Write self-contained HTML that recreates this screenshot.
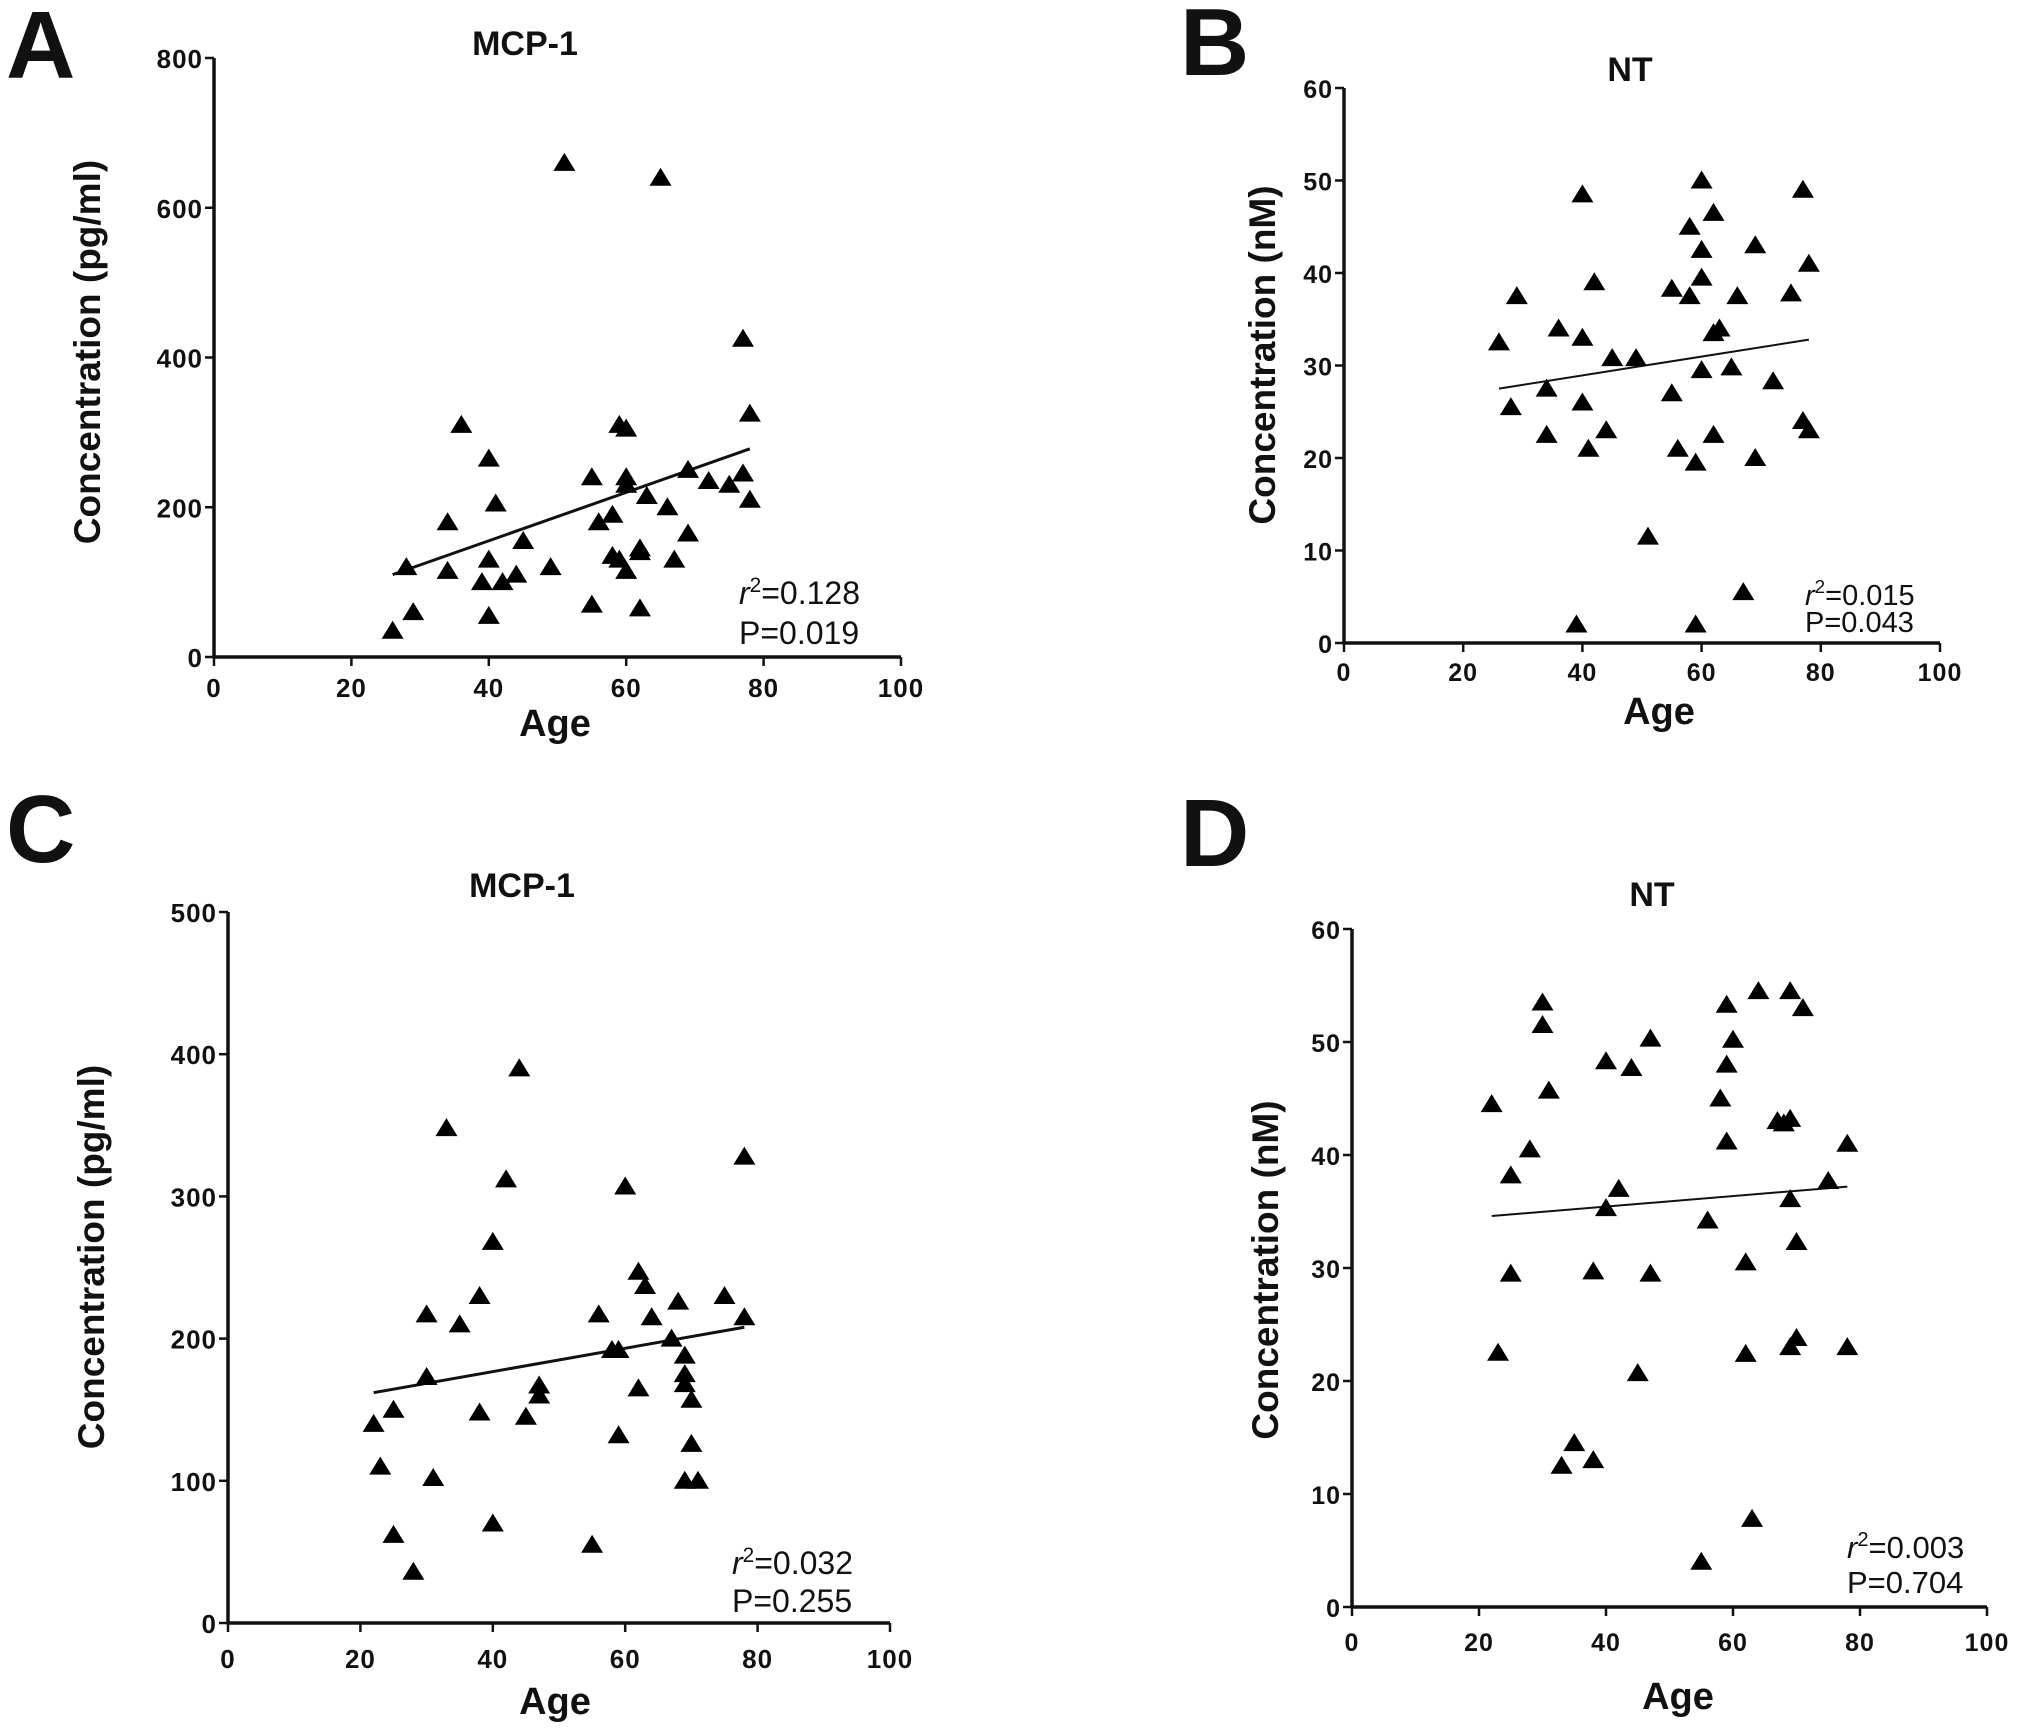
<!DOCTYPE html>
<html><head><meta charset="utf-8"><style>
html,body{margin:0;padding:0;background:#fff}
svg{display:block}
text{font-family:"Liberation Sans",Arial,sans-serif;fill:#111}
</style></head><body>
<svg id="fig" width="2031" height="1734" viewBox="0 0 2031 1734" xmlns="http://www.w3.org/2000/svg"></svg>
<script>
const xTicks=[0,20,40,60,80,100];
const aAges=[26,28,29,34,34,36,39,40,40,40,41,42,44,45,49,51,55,55,56,58,58,59,59,60,60,60,60,62,62,62,63,65,66,67,69,69,72,75,77,77,78,78];
const aVals=[35,120,60,115,180,310,100,130,55,265,205,100,110,155,120,660,240,70,180,190,135,130,310,305,115,240,230,140,145,65,215,640,200,130,250,165,235,230,425,245,325,210];
const aFit=[[26,110],[78,278]];
const aYTicks=[0,200,400,600,800];
const bAges=[26,28,29,34,34,36,39,40,40,40,41,42,44,45,49,51,55,55,56,58,58,59,59,60,60,60,60,62,62,62,63,65,66,67,69,69,72,75,77,77,78,78];
const bVals=[32.5,25.5,37.5,27.5,22.5,34,2,48.5,33,26,21,39,23,30.8,30.8,11.5,38.3,27,21,45,37.5,19.5,2,50,42.5,39.5,29.5,46.5,33.5,22.5,34,29.8,37.5,5.5,43,20,28.3,37.8,49,24,23,41];
const bFit=[[26,27.5],[78,32.8]];
const bYTicks=[0,10,20,30,40,50,60];
const cAges=[22,23,25,25,28,30,30,31,33,35,38,38,40,40,42,44,45,47,47,55,56,58,59,59,60,62,62,63,64,67,68,69,69,69,69,70,70,71,75,78,78];
const cVals=[140,110,150,62,36,217,173,102,348,210,230,148,268,70,312,390,145,160,167,55,217,192,132,192,307,247,165,237,215,200,226,188,175,168,100,157,126,100,230,328,215];
const cFit=[[22,162],[78,208]];
const cYTicks=[0,100,200,300,400,500];
const dAges=[22,23,25,25,28,30,30,31,33,35,38,38,40,40,42,44,45,47,47,55,56,58,59,59,59,60,62,62,63,64,67,68,69,69,69,69,70,70,71,75,78,78];
const dVals=[44.5,22.5,38.2,29.5,40.5,53.5,51.5,45.7,12.5,14.5,29.7,13,48.3,35.3,37,47.7,20.7,50.3,29.5,4,34.2,45,53.3,48,41.2,50.2,30.5,22.4,7.8,54.5,43,42.8,54.5,43.2,36.1,23,32.3,23.8,53,37.7,41,23];
const dFit=[[22,34.6],[78,37.2]];
const dYTicks=[0,10,20,30,40,50,60];

const NS="http://www.w3.org/2000/svg";
const svg=document.getElementById('fig');
function mk(tag,attrs,parent,txt){const e=document.createElementNS(NS,tag);for(const k in attrs)e.setAttribute(k,attrs[k]);if(txt!==undefined)e.textContent=txt;parent.appendChild(e);return e;}

function panel(p){
  const g=mk('g',{},svg);
  
  
  const sx=v=>p.x0+(v/100)*(p.x1-p.x0);
  const sy=v=>p.y0-(v/p.ymax)*(p.y0-p.y1);
  let t=mk('text',{x:p.lx,y:p.ly,'font-size':96,'font-weight':'bold'},g,p.id);
  
  t=mk('text',{x:p.tx,y:p.ty,'font-size':34,'font-weight':'bold','text-anchor':'middle'},g,p.title);
  
  let l=mk('line',{x1:p.x0,y1:p.y0,x2:p.x0,y2:p.y1,stroke:'#111','stroke-width':3.5},g);
  
  l=mk('line',{x1:p.x0-1.5,y1:p.y0,x2:p.x1,y2:p.y0,stroke:'#111','stroke-width':3.5},g);
  
  p.yt.forEach(v=>{
    const y=sy(v);
    let tk=mk('line',{x1:p.x0-9,y1:y,x2:p.x0,y2:y,stroke:'#111','stroke-width':2.5},g);
    
    let tl=mk('text',{x:p.x0-11,y:y+10,'font-size':p.tfs,'font-weight':'bold','text-anchor':'end',fill:'#222','letter-spacing':1},g,String(v));
    
  });
  xTicks.forEach(v=>{
    const x=sx(v);
    let tk=mk('line',{x1:x,y1:p.y0,x2:x,y2:p.y0+9,stroke:'#111','stroke-width':2.5},g);
    
    let tl=mk('text',{x:x,y:p.xly,'font-size':p.tfs,'font-weight':'bold','text-anchor':'middle',fill:'#222','letter-spacing':1},g,String(v));
    
  });
  t=mk('text',{x:p.ax,y:p.ay,'font-size':38,'font-weight':'bold','text-anchor':'middle'},g,'Age');
  
  t=mk('text',{x:0,y:0,'font-size':37,'font-weight':'bold','text-anchor':'middle',transform:`translate(${p.ytx},${p.yty}) rotate(-90)`},g,p.ytitle);
  
  l=mk('line',{x1:sx(p.fit[0][0]),y1:sy(p.fit[0][1]),x2:sx(p.fit[1][0]),y2:sy(p.fit[1][1]),stroke:'#111','stroke-width':p.fw},g);
  
  p.ages.forEach((a,i)=>{
    const x=sx(a),y=sy(p.vals[i]);
    const tr=mk('polygon',{points:`${x-11},${y+8} ${x+11},${y+8} ${x},${y-10}`,fill:'#000'},g);
    
    
  });
  const st=mk('text',{x:p.sx,y:p.sy1,'font-size':p.sfs,fill:'#333'},g);
  
  mk('tspan',{'font-style':'italic'},st,'r');
  mk('tspan',{dy:-12,'font-size':p.sfs*0.65},st,'2');
  mk('tspan',{dy:12},st,'='+p.r2);
  t=mk('text',{x:p.sx,y:p.sy2,'font-size':p.sfs,fill:'#333'},g,'P='+p.pv);
  
}

panel({id:'A',title:'MCP-1',x0:214,x1:901,y0:657,y1:58,ymax:800,yt:aYTicks,ages:aAges,vals:aVals,fit:aFit,fw:3,tfs:26,sfs:32,
  lx:6,ly:78,tx:525,ty:55,xly:697,ax:555,ay:736,ytx:100,yty:352,ytitle:'Concentration (pg/ml)',sx:739,sy1:604,sy2:644,r2:'0.128',pv:'0.019'});
panel({id:'B',title:'NT',x0:1344,x1:1940,y0:643,y1:88,ymax:60,yt:bYTicks,ages:bAges,vals:bVals,fit:bFit,fw:2,tfs:25,sfs:29,
  lx:1180,ly:75,tx:1630,ty:81,xly:681,ax:1659,ay:724,ytx:1275,yty:355,ytitle:'Concentration (nM)',sx:1805,sy1:605,sy2:632,r2:'0.015',pv:'0.043'});
panel({id:'C',title:'MCP-1',x0:228,x1:890,y0:1623,y1:912,ymax:500,yt:cYTicks,ages:cAges,vals:cVals,fit:cFit,fw:3,tfs:26,sfs:32,
  lx:6,ly:862,tx:522,ty:897,xly:1668,ax:555,ay:1714,ytx:104,yty:1257,ytitle:'Concentration (pg/ml)',sx:732,sy1:1574,sy2:1612,r2:'0.032',pv:'0.255'});
panel({id:'D',title:'NT',x0:1352,x1:1987,y0:1607,y1:929,ymax:60,yt:dYTicks,ages:dAges,vals:dVals,fit:dFit,fw:2,tfs:25,sfs:31,
  lx:1180,ly:866,tx:1652,ty:906,xly:1651,ax:1678,ay:1709,ytx:1278,yty:1270,ytitle:'Concentration (nM)',sx:1847,sy1:1558,sy2:1593,r2:'0.003',pv:'0.704'});
</script>
</body></html>
